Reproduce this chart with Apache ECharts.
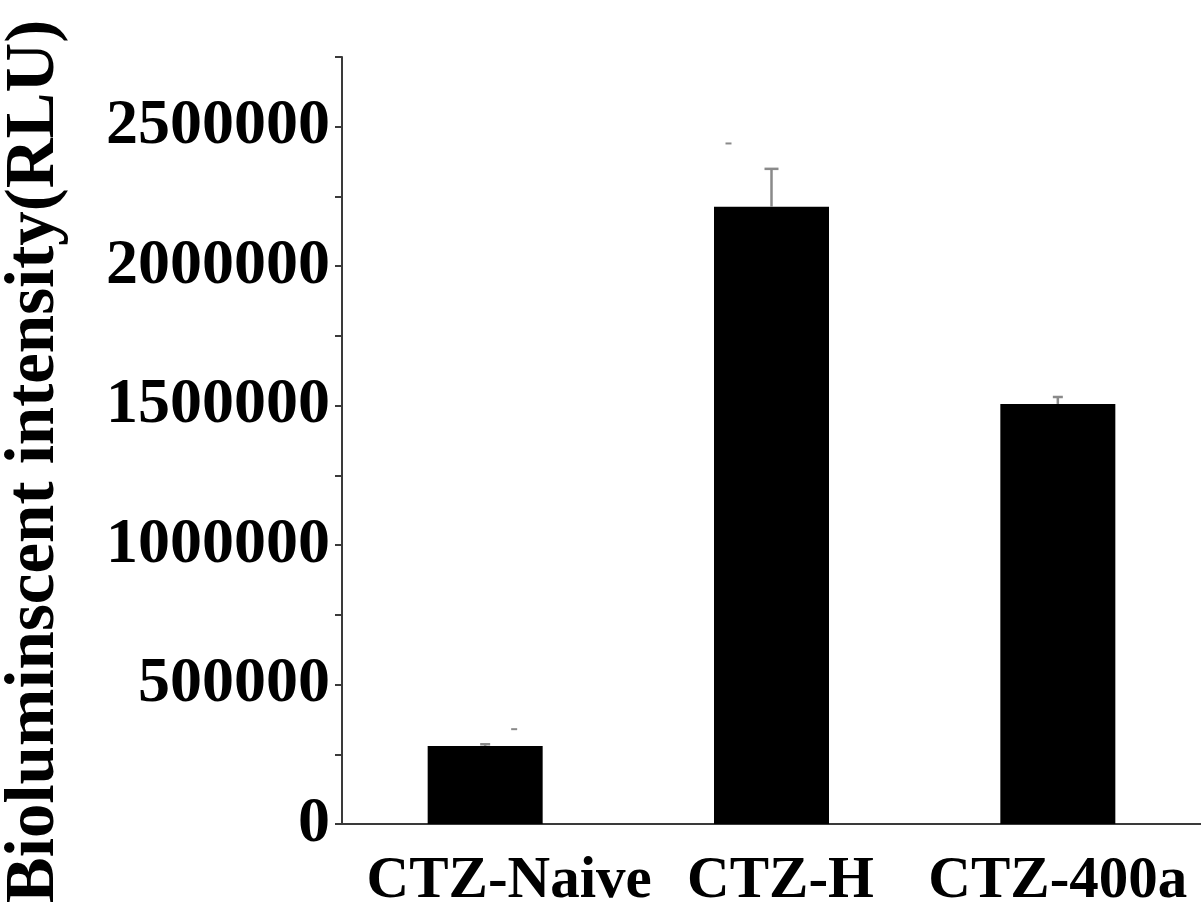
<!DOCTYPE html>
<html>
<head>
<meta charset="utf-8">
<script src="https://cdn.jsdelivr.net/npm/echarts@6/dist/echarts.min.js"></script>
<style>
  html, body { margin: 0; padding: 0; background: #fff; }
  #chart { width: 1201px; height: 914px; }
</style>
</head>
<body>
<div id="chart"></div>
<script>
// Groups and measured luminescence
const categories = ['CTZ-Naive', 'CTZ-H', 'CTZ-400a'];
const meanValues = [280000, 2213000, 1506000];
const errorValues = [6000, 136000, 25000];
// Small stray dashes printed near two of the bars
const dashValues = [340000, 2440000, null];

const yTitle = 'Bioluminscent intensity(RLU)';
const serif = '"Liberation Serif", "Times New Roman", serif';

const chart = echarts.init(document.getElementById('chart'), null, { renderer: 'canvas' });

const dashOffsets = [29, -43, 0];
// left padding nudges each group label to the right of its tick
const labelPadLeft = [48, 18, 0];

chart.setOption({
  backgroundColor: '#ffffff',
  animation: false,
  grid: { left: 342, right: 0, top: 57, bottom: 90, containLabel: false, outerBoundsMode: 'none' },
  xAxis: [{
    type: 'category',
    data: categories.map((c, i) => ({ value: c, textStyle: { padding: [0, 0, 0, labelPadLeft[i]] } })),
    boundaryGap: true,
    axisLine: { lineStyle: { color: '#3a3a3a', width: 2 } },
    axisTick: { alignWithLabel: true, length: 10, lineStyle: { color: '#3a3a3a', width: 2 } },
    axisLabel: {
      interval: 0, hideOverlap: false,
      margin: 28, color: '#000', fontFamily: serif, fontWeight: 'bold', fontSize: 59
    }
  }, {
    // boundary ticks between groups
    type: 'category',
    data: categories,
    position: 'bottom',
    boundaryGap: true,
    axisLine: { show: false },
    axisTick: { interval: 0, length: 4, lineStyle: { color: '#777', width: 1.5 } },
    axisLabel: { show: false }
  }],
  yAxis: {
    type: 'value',
    min: 0,
    max: 2750000,
    interval: 250000,
    axisLine: { show: true, lineStyle: { color: '#3a3a3a', width: 2 } },
    axisTick: { show: true, length: 7, lineStyle: { color: '#3a3a3a', width: 2 } },
    splitLine: { show: false },
    axisLabel: {
      margin: 12, color: '#000', fontFamily: serif, fontWeight: 'bold', fontSize: 64,
      formatter: v => (v % 500000 === 0 ? String(v) : '')
    },
    name: yTitle,
    nameLocation: 'middle',
    nameGap: 272,
    nameRotate: 90,
    nameTextStyle: {
      color: '#000', fontFamily: serif, fontWeight: 'bold', fontSize: 69,
      padding: [0, 42, 0, 0]
    }
  },
  series: [{
    type: 'bar',
    data: meanValues,
    barWidth: 115,
    itemStyle: { color: '#000' },
    z: 2
  }, {
    // upper error bars
    type: 'custom',
    data: meanValues.map((v, i) => [i, v, v + errorValues[i]]),
    z: 3,
    renderItem: function (params, api) {
      const i = api.value(0);
      const base = api.coord([i, api.value(1)]);
      const top = api.coord([i, api.value(2)]);
      const half = i === 1 ? 7 : 5;
      const style = { stroke: '#8a8a8a', lineWidth: 2.5 };
      return {
        type: 'group',
        children: [
          { type: 'line', shape: { x1: base[0], y1: base[1], x2: top[0], y2: top[1] }, style: style },
          { type: 'line', shape: { x1: top[0] - half, y1: top[1], x2: top[0] + half, y2: top[1] }, style: style }
        ]
      };
    }
  }, {
    type: 'custom',
    data: dashValues.map((v, i) => [i, v]),
    z: 3,
    renderItem: function (params, api) {
      const i = api.value(0);
      const v = api.value(1);
      if (v == null || isNaN(v)) return null;
      const p = api.coord([i, v]);
      const x = p[0] + dashOffsets[i];
      return {
        type: 'line',
        shape: { x1: x - 3, y1: p[1], x2: x + 3, y2: p[1] },
        style: { stroke: '#8a8a8a', lineWidth: 2 }
      };
    }
  }]
});
</script>
</body>
</html>
